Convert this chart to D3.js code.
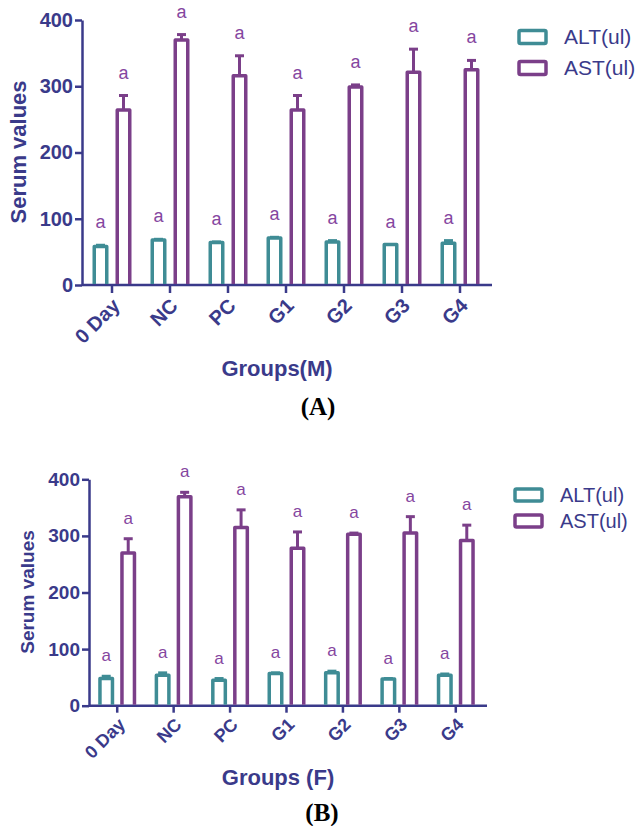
<!DOCTYPE html>
<html><head><meta charset="utf-8">
<script src="https://cdn.jsdelivr.net/npm/d3@7"></script>
<style>body{margin:0;background:#fff}svg{display:block}</style>
</head><body>
<svg id="c" width="639" height="826"></svg>
<script>
const groups = ["0 Day","NC","PC","G1","G2","G3","G4"];
const series = ["ALT(ul)","AST(ul)"];
const yTicks = [0,100,200,300,400];
// Panel A (Male)
const altA = [58,68,64,71,65,61,63];
const altErrA = [2,1,1,1,2,0,4];
const astA = [264,370,316,264,299,321,325];
const astErrA = [22,8,30,22,3,35,14];
const lettersA_alt = ["a","a","a","a","a","a","a"];
const lettersA_ast = ["a","a","a","a","a","a","a"];
// Panel B (Female)
const altB = [48,54,45,57,58,47,54];
const altErrB = [4,4,3,1,3,1,2];
const astB = [270,369,315,278,303,305,292];
const astErrB = [25,8,31,29,2,29,27];
const lettersB_alt = ["a","a","a","a","a","a","a"];
const lettersB_ast = ["a","a","a","a","a","a","a"];

const TEAL = "#3f8c95", PURPLE = "#7b3f89", LETTER = "#8546a0", NAVY = "#3a3a8a";
const SANS = "Liberation Sans, Arial, sans-serif";
const svg = d3.select("#c");

function panel(o){
  const g = svg.append("g");
  const x = d3.scaleBand().domain(groups).range([o.x0, o.x1]);
  const y = d3.scaleLinear().domain([0,400]).range([o.yb, o.yt]);
  const cx = d => x(d) + x.bandwidth()/2;
  const ya = g.append("g").attr("transform",`translate(${o.ax},0)`)
    .call(d3.axisLeft(y).tickValues(yTicks).tickSize(7).tickSizeOuter(0).tickPadding(2));
  ya.select(".domain").attr("stroke",NAVY).attr("stroke-width",2.5);
  ya.selectAll(".tick line").attr("stroke",NAVY).attr("stroke-width",2.5);
  ya.selectAll(".tick text").attr("fill",NAVY).attr("font-family",SANS)
    .attr("font-weight","bold").attr("font-size",o.tf);
  const xa = g.append("g").attr("transform",`translate(0,${o.yb})`)
    .call(d3.axisBottom(x).tickSize(o.tl).tickSizeOuter(0).tickPadding(4));
  xa.select(".domain").attr("stroke",NAVY).attr("stroke-width",2.5)
    .attr("d",`M${o.ax},0H${o.xend}`);
  xa.selectAll(".tick line").attr("stroke",NAVY).attr("stroke-width",2.5);
  xa.selectAll(".tick text").attr("fill",NAVY).attr("font-family",SANS)
    .attr("font-weight","bold").attr("font-size",o.xf)
    .attr("text-anchor","end").attr("dy","0")
    .attr("transform",`translate(${o.xlx},${o.xly}) rotate(-45)`).attr("y",0);
  const bw = o.bw, sw = 3.5;
  const sets = [
    {v:o.alt, e:o.altErr, l:o.lAlt, c:TEAL, off:-o.off},
    {v:o.ast, e:o.astErr, l:o.lAst, c:PURPLE, off:o.off}
  ];
  sets.forEach(s=>{
    groups.forEach((gr,i)=>{
      const xc = cx(gr)+s.off;
      const top = y(s.v[i]), et = y(s.v[i]+s.e[i]);
      if (s.e[i]>0){
        g.append("line").attr("x1",xc).attr("x2",xc).attr("y1",top).attr("y2",et)
          .attr("stroke",s.c).attr("stroke-width",3);
        g.append("line").attr("x1",xc-4.5).attr("x2",xc+4.5).attr("y1",et).attr("y2",et)
          .attr("stroke",s.c).attr("stroke-width",3);
      }
      g.append("path")
        .attr("d",`M${xc-bw/2},${o.yb-1}V${top}H${xc+bw/2}V${o.yb-1}`)
        .attr("fill","none").attr("stroke",s.c).attr("stroke-width",sw)
        .attr("stroke-linejoin","round");
      g.append("text").attr("x",xc).attr("y",et-o.lg).attr("text-anchor","middle")
        .attr("fill",LETTER).attr("font-family",SANS)
        .attr("font-size",o.lf).text(s.l[i]);
    });
  });
  g.append("text").attr("transform",`translate(${o.ytx},${o.yty}) rotate(-90)`)
    .attr("text-anchor","middle").attr("fill",NAVY).attr("font-weight","bold")
    .attr("font-family",SANS).attr("font-size",o.yf).text("Serum values");
  g.append("text").attr("x",o.xtx).attr("y",o.xty).attr("text-anchor","middle").attr("fill",NAVY)
    .attr("font-weight","bold").attr("font-family",SANS)
    .attr("font-size",o.xtf).text(o.xtitle);
  g.append("text").attr("x",o.px).attr("y",o.py).attr("text-anchor","middle").attr("fill","#000")
    .attr("font-weight","bold").attr("font-family","Liberation Serif, Times New Roman, serif")
    .attr("font-size",25).text(o.plabel);
  series.forEach((s,i)=>{
    const c = i===0?TEAL:PURPLE;
    const ly = o.ly + i*o.lsp;
    g.append("rect").attr("x",o.lx).attr("y",ly-o.lh/2).attr("width",o.lw).attr("height",o.lh)
      .attr("fill","none").attr("stroke",c).attr("stroke-width",3.5).attr("rx",1.5);
    g.append("text").attr("x",o.lx+o.lw+18).attr("y",ly).attr("dy","0.35em").attr("fill",NAVY)
      .attr("font-family",SANS).attr("font-size",o.legf).text(s);
  });
}

panel({x0:83,x1:489,ax:82,xend:492,yb:285,yt:20,tl:8,tf:20,xf:20,xlx:9,xly:22,bw:12.5,off:11.5,
  alt:altA,altErr:altErrA,ast:astA,astErr:astErrA,lAlt:lettersA_alt,lAst:lettersA_ast,
  lg:17,lf:18,ytx:26,yty:152,yf:22,xtitle:"Groups(M)",xtf:22,xtx:277,xty:376,
  plabel:"(A)",px:318,py:415,lx:519,lw:27,lh:13,ly:37,lsp:31,legf:21});

panel({x0:89,x1:484,ax:89,xend:487,yb:705.7,yt:479.3,tl:7,tf:19,xf:18,xlx:9,xly:20,bw:12.5,off:11,
  alt:altB,altErr:altErrB,ast:astB,astErr:astErrB,lAlt:lettersB_alt,lAst:lettersB_ast,
  lg:15,lf:17,ytx:34,yty:592,yf:19,xtitle:"Groups (F)",xtf:22,xtx:278,xty:785,
  plabel:"(B)",px:322,py:821,lx:515,lw:27,lh:12,ly:495,lsp:26,legf:20});
</script>
</body></html>
